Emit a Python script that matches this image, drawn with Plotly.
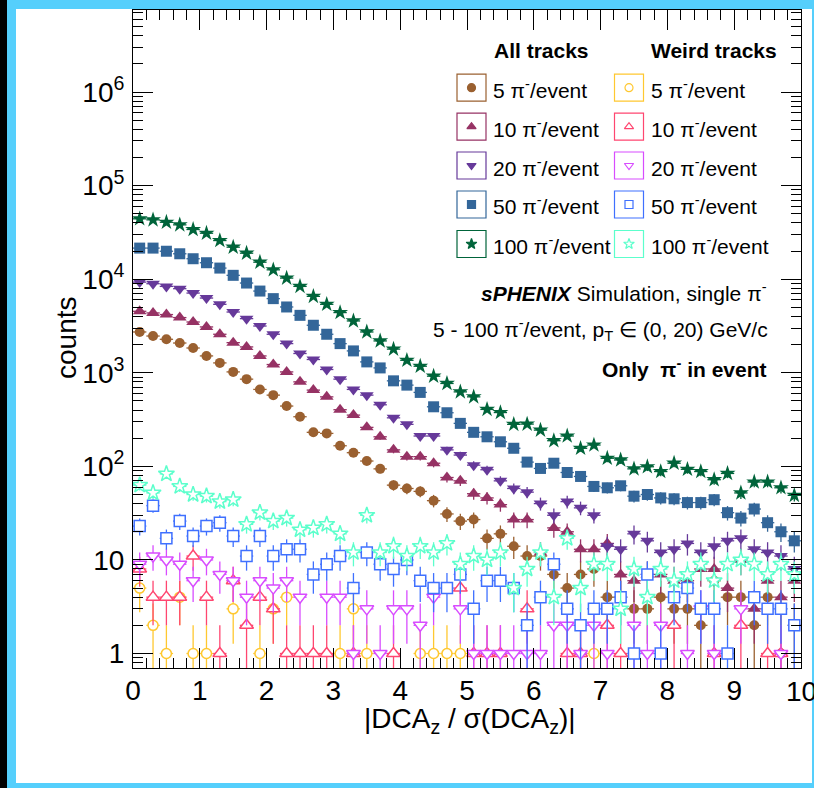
import math
import plotly.graph_objects as go

# ---------------- data ----------------
bin_centers = [0.1, 0.3, 0.5, 0.7, 0.9, 1.1, 1.3, 1.5, 1.7, 1.9,
               2.1, 2.3, 2.5, 2.7, 2.9, 3.1, 3.3, 3.5, 3.7, 3.9,
               4.1, 4.3, 4.5, 4.7, 4.9, 5.1, 5.3, 5.5, 5.7, 5.9,
               6.1, 6.3, 6.5, 6.7, 6.9, 7.1, 7.3, 7.5, 7.7, 7.9,
               8.1, 8.3, 8.5, 8.7, 8.9, 9.1, 9.3, 9.5, 9.7, 9.9]
bin_half_width = 0.1

all_5 = [2730, 2470, 2280, 2080, 1840, 1514, 1275, 1022, 855, 664,
         577, 441, 339, 231, 225, 166, 140, 114, 94, 63,
         58, 54, 43, 31, 26, 27, 17, 19, 14, 11,
         11, 7, 5, 7, 8, 4, 4, 3, 3, 4,
         3, 3, 2, 6, 4, 4, 2, 4, 1, 2]
all_10 = [4540, 4360, 4190, 3890, 3490, 3090, 2580, 2100, 1890, 1514,
          1225, 1022, 800, 653, 553, 403, 353, 261, 207, 150,
          127, 127, 108, 76, 70, 51, 46, 39, 27, 27,
          12, 22, 20, 13, 13, 15, 7, 6, 7, 7,
          6, 6, 8, 8, 5, 10, 3, 6, 4, 6]
all_20 = [9310, 8950, 8380, 7920, 7110, 6290, 5390, 4460, 3790, 3160,
          2580, 2050, 1607, 1387, 1084, 855, 664, 577, 455, 330,
          281, 211, 211, 150, 132, 103, 92, 70, 58, 53,
          40, 30, 42, 36, 30, 14, 13, 19, 16, 12,
          13, 15, 12, 14, 16, 17, 13, 12, 11, 8]
all_50 = [21500, 21500, 19900, 18700, 16550, 15000, 13150, 11000, 9100, 7470,
          6200, 5050, 4110, 3220, 2580, 2050, 1713, 1307, 1127, 820,
          738, 617, 433, 374, 288, 231, 207, 183, 156, 111,
          95, 108, 86, 78, 61, 59, 62, 48, 50, 46,
          45, 41, 41, 44, 32, 28, 35, 25, 20, 16]
all_100 = [44200, 43100, 40600, 38100, 34000, 31000, 25900, 22000, 18970, 15200,
           12600, 10280, 8380, 6560, 5390, 4400, 3580, 2730, 2190, 1790,
           1360, 1175, 920, 769, 625, 553, 406, 376, 281, 283,
           244, 188, 211, 156, 169, 122, 117, 94, 99, 88,
           108, 93, 88, 72, 84, 52, 68, 68, 59, 49]

weird_5 = [5, 2, 1, 4, 1, 1, None, 3, None, 1,
           3, 4, None, None, None, 1, 3, 1, None, None,
           None, 1, 1, 1, 1, None, None, None, None, None,
           None, None, None, None, 1, None, None, None, None, None,
           None, None, None, None, None, None, None, None, None, None]
weird_10 = [8, 4, 4, 4, 11, 4, 1, 6, 2, 4,
            3, 1, 1, 1, 1, None, 1, None, None, 1,
            None, None, None, None, 5, 1, 1, 1, None, 3,
            None, None, 1, 1, None, 2, 1, None, None, None,
            2, None, None, 1, None, 2, None, 1, 1, None]
weird_20 = [9, 11, 10, 9, 6, 10, 7, 6, 4, 6,
            5, 6, 4, None, 4, 4, 1, 3, 1, 3,
            3, 2, 4, None, 3, 1, 1, 1, 1, 1,
            1, 2, 2, 1, 2, 1, None, 2, 1, 2,
            None, 1, 3, 1, None, 3, None, None, 1, None]
weird_50 = [23, 38, 17, 26, 18, 23, 25, 18, 11, 18,
            11, 13, 13, 7, 9, 11, 5, 12, 9, 8,
            10, 6, 5, 5, 7, 3, 6, 6, 5, 2,
            4, 9, 3, 2, 3, 3, 4, 1, 7, 1,
            4, 5, 3, 3, 1, None, 4, 3, 3, 2]
weird_100 = [63, 52, 83, 61, 50, 48, 42, 44, 24, 32,
             26, 28, 21, 22, 24, 19, 12, 30, 12, 14,
             11, 14, 12, 15, 9, 11, 10, 12, 5, 8,
             12, 4, 17, 5, 9, 9, 3, 8, 4, 8,
             6, 7, 9, 6, 9, 10, 9, 7, 9, 7]

series_labels = ["5 π<sup>-</sup>/event", "10 π<sup>-</sup>/event", "20 π<sup>-</sup>/event",
                 "50 π<sup>-</sup>/event", "100 π<sup>-</sup>/event"]
all_series = [all_5, all_10, all_20, all_50, all_100]
weird_series = [weird_5, weird_10, weird_20, weird_50, weird_100]

all_colors = ["#9a6030", "#963264", "#66399a", "#336699", "#00643a"]
weird_colors = ["#ffc830", "#ff4670", "#d84cff", "#3f70ff", "#5cffcc"]
all_symbols = ["circle", "triangle-up", "triangle-down", "square", "star"]
weird_symbols = ["circle", "triangle-up", "triangle-down", "square", "star"]
weird_legend_symbols = ["circle-open", "triangle-up-open", "triangle-down-open",
                        "square-open", "star-open"]
all_sizes = [10, 12, 12, 11, 12]
weird_sizes = [10, 12, 12, 11, 12]

y_tick_vals = [1, 10, 100, 1000, 10000, 100000, 1000000]
y_tick_text = ["1", "10", "10<sup>2</sup>", "10<sup>3</sup>", "10<sup>4</sup>",
               "10<sup>5</sup>", "10<sup>6</sup>"]
x_tick_vals = [0, 1, 2, 3, 4, 5, 6, 7, 8, 9, 10]
x_tick_text = ["0", "1", "2", "3", "4", "5", "6", "7", "8", "9", ""]
x_last_label = "10"   # drawn separately: it runs off the right edge of the window

# ---------------- geometry ----------------
W, H = 814, 788
PL, PR, PT, PB = 133, 801, 10, 668   # plot area in pixels
FONT = "Liberation Sans, Arial, Helvetica, sans-serif"


def px(xp):
    return (xp - PL) / (PR - PL)


def py(yp):
    return (PB - yp) / (PB - PT)


fig = go.Figure()


def add_series(vals, color, symbol, size, name, open_marker):
    errs = [math.sqrt(v) if v else 0 for v in vals]
    fig.add_trace(go.Scatter(
        x=bin_centers, y=vals, mode="markers", name=name, showlegend=False,
        marker=dict(symbol=symbol, size=size,
                    color="white" if open_marker else color,
                    line=dict(color=color, width=1.5 if open_marker else 0)),
        error_y=dict(type="data", array=errs, visible=True, color=color,
                     thickness=1.3, width=0),
        error_x=dict(type="constant", value=bin_half_width, visible=True,
                     color=color, thickness=1.3, width=0),
    ))


for i in range(5):
    add_series(all_series[i], all_colors[i], all_symbols[i], all_sizes[i],
               "all " + series_labels[i], False)
for i in range(5):
    add_series(weird_series[i], weird_colors[i], weird_symbols[i], weird_sizes[i],
               "weird " + series_labels[i], True)

# ---------------- legend (drawn by hand, ROOT style) ----------------
row_y = [87.7, 126.7, 165.5, 204.5, 244.0]
col_box_x = [457.0, 614.5]
box_w, box_h = 29, 27
col_text_x = [491.0, 648.5]

shapes = []
annotations = []
leg_x, leg_y, leg_sym, leg_col = [], [], [], []
for c in range(2):
    cols = all_colors if c == 0 else weird_colors
    syms = all_symbols if c == 0 else weird_legend_symbols
    for r in range(5):
        x0 = col_box_x[c]
        yc = row_y[r]
        shapes.append(dict(type="rect", xref="paper", yref="paper",
                           x0=px(x0), x1=px(x0 + box_w),
                           y0=py(yc + box_h / 2), y1=py(yc - box_h / 2),
                           line=dict(color=cols[r], width=1.2),
                           fillcolor="rgba(0,0,0,0)", layer="above"))
        leg_x.append(x0 + box_w / 2)
        leg_y.append(yc)
        leg_sym.append(syms[r])
        leg_col.append(cols[r])
        annotations.append(dict(xref="paper", yref="paper", x=px(col_text_x[c]),
                                y=py(yc + 1), xanchor="left", yanchor="middle",
                                text=series_labels[r], showarrow=False,
                                font=dict(family=FONT, size=21, color="black")))

fig.add_trace(go.Scatter(
    x=leg_x, y=leg_y, xaxis="x2", yaxis="y2", mode="markers", showlegend=False,
    hoverinfo="skip",
    marker=dict(symbol=leg_sym, size=8, color=leg_col,
                line=dict(color=leg_col, width=1.2)),
))

annotations += [
    dict(xref="paper", yref="paper", x=px(491.5), y=py(50.5), xanchor="left",
         yanchor="middle", text="<b>All tracks</b>", showarrow=False,
         font=dict(family=FONT, size=21, color="black")),
    dict(xref="paper", yref="paper", x=px(649.0), y=py(50.5), xanchor="left",
         yanchor="middle", text="<b>Weird tracks</b>", showarrow=False,
         font=dict(family=FONT, size=21, color="black")),
    dict(xref="paper", yref="paper", x=px(769), y=py(291.5), xanchor="right",
         yanchor="middle", text="<b><i>sPHENIX</i></b> Simulation, single π<sup>-</sup>",
         showarrow=False, font=dict(family=FONT, size=21, color="black")),
    dict(xref="paper", yref="paper", x=px(770), y=py(329), xanchor="right",
         yanchor="middle", text="5 - 100 π<sup>-</sup>/event, p<sub>T</sub> ∈ (0, 20) GeV/c",
         showarrow=False, font=dict(family=FONT, size=21, color="black")),
    dict(xref="paper", yref="paper", x=px(769), y=py(368), xanchor="right",
         yanchor="middle", text="<b>Only \u00a0π<sup>-</sup> in event</b>",
         showarrow=False, font=dict(family=FONT, size=21, color="black")),
    dict(xref="paper", yref="paper", x=px(66), y=py(338), xanchor="center",
         yanchor="middle", text="counts", textangle=-90, showarrow=False,
         font=dict(family=FONT, size=28, color="black")),
    dict(xref="paper", yref="paper", x=px(470), y=py(720), xanchor="center",
         yanchor="middle", text="|DCA<sub>z</sub> / σ(DCA<sub>z</sub>)|",
         showarrow=False, font=dict(family=FONT, size=28, color="black")),
    # last x tick label, centred on the right edge of the frame
    dict(xref="paper", yref="paper", x=1.0, y=py(691), xanchor="center",
         yanchor="middle", text=x_last_label, showarrow=False,
         font=dict(family=FONT, size=28, color="black")),
]

# frame of the canvas window (cyan border on black)
frame_shapes = [
    dict(type="rect", xref="paper", yref="paper", x0=px(7), x1=px(814),
         y0=py(788), y1=py(0), fillcolor="#55cffc", line=dict(width=0), layer="below"),
    dict(type="rect", xref="paper", yref="paper", x0=px(16), x1=px(812),
         y0=py(783), y1=py(9), fillcolor="white", line=dict(width=0), layer="below"),
]

minor_y = [m * 10 ** e for e in range(-1, 7) for m in range(2, 10)]

fig.update_layout(
    width=W, height=H,
    margin=dict(l=PL, r=W - PR, t=PT, b=H - PB, pad=0, autoexpand=False),
    paper_bgcolor="black", plot_bgcolor="white",
    showlegend=False,
    shapes=frame_shapes + shapes,
    annotations=annotations,
    xaxis=dict(range=[0, 10], showgrid=False, zeroline=False, automargin=False,
               showline=True, linecolor="black", linewidth=1, mirror="allticks",
               ticks="inside", ticklen=20, tickwidth=1, tickcolor="black",
               tickmode="array", tickvals=x_tick_vals, ticktext=x_tick_text,
               tickfont=dict(family=FONT, size=28, color="black"),
               ticklabelstandoff=-3,
               minor=dict(ticks="inside", ticklen=10, tickwidth=1, tickcolor="black",
                          dtick=0.2, tick0=0, showgrid=False)),
    yaxis=dict(type="log", range=[-0.155, 6.877], showgrid=False, zeroline=False,
               automargin=False,
               showline=True, linecolor="black", linewidth=1, mirror="allticks",
               ticks="inside", ticklen=20, tickwidth=1, tickcolor="black",
               tickmode="array", tickvals=y_tick_vals, ticktext=y_tick_text,
               tickfont=dict(family=FONT, size=28, color="black"),
               ticklabelstandoff=2,
               minor=dict(ticks="inside", ticklen=10, tickwidth=1, tickcolor="black",
                          tickmode="array", tickvals=minor_y, showgrid=False)),
    xaxis2=dict(overlaying="x", range=[PL, PR], visible=False),
    yaxis2=dict(overlaying="y", range=[PB, PT], visible=False),
)

# keep anything that runs past the window edge from widening the page
clip_js = ("var gd=document.getElementById('{plot_id}');"
           "gd.style.overflow='hidden';"
           "document.body.style.margin='0';"
           "document.body.style.overflow='hidden';"
           "document.documentElement.style.overflow='hidden';")

fig.write_html("out.html", post_script=clip_js)
